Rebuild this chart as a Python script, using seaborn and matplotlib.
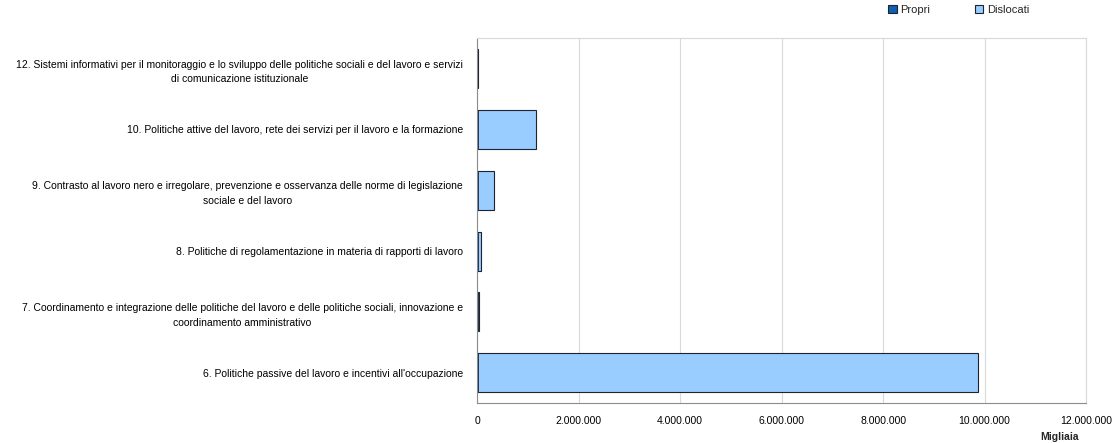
import matplotlib
matplotlib.use("Agg")
import matplotlib.pyplot as plt
from matplotlib.patches import Patch
from matplotlib.ticker import FuncFormatter
import seaborn as sns
import pandas as pd

# Spesa per programma (migliaia di euro)
categorie = [
    "12. Sistemi informativi per il monitoraggio e lo sviluppo delle politiche sociali e del lavoro e servizi\ndi comunicazione istituzionale",
    "10. Politiche attive del lavoro, rete dei servizi per il lavoro e la formazione",
    "9. Contrasto al lavoro nero e irregolare, prevenzione e osservanza delle norme di legislazione\nsociale e del lavoro",
    "8. Politiche di regolamentazione in materia di rapporti di lavoro",
    "7. Coordinamento e integrazione delle politiche del lavoro e delle politiche sociali, innovazione e\ncoordinamento amministrativo",
    "6. Politiche passive del lavoro e incentivi all'occupazione",
]
propri = [5000, 15000, 10000, 20000, 25000, 20000]
dislocati = [10000, 1150000, 330000, 59000, 20000, 9850000]
serie = ["Propri", "Dislocati"]
tick_valori = [0, 2000000, 4000000, 6000000, 8000000, 10000000, 12000000]

sns.set_theme(style="white")
font_list = ["Liberation Sans Narrow", "Liberation Sans", "DejaVu Sans"]
plt.rcParams["font.family"] = font_list

col_propri = "#1060b0"
col_disl = "#99ccff"
col_bordo = "#1c2430"

df = pd.DataFrame({"categoria": categorie, "Propri": propri, "Dislocati": dislocati})
df["Totale"] = df["Propri"] + df["Dislocati"]

fig = plt.figure(figsize=(11.12, 4.43), dpi=100)
ax = fig.add_axes([0.429, 0.090, 0.5477, 0.824])

# Barre impilate: totale (Dislocati sopra Propri) e quota Propri da zero
sns.barplot(data=df, x="Totale", y="categoria", orient="h", color=col_disl,
            edgecolor=col_bordo, linewidth=0.8, width=0.64, ax=ax, saturation=1)
sns.barplot(data=df, x="Propri", y="categoria", orient="h", color=col_propri,
            edgecolor=col_bordo, linewidth=0.6, width=0.64, ax=ax, saturation=1)

ax.set_xlim(0, 12000000)
ax.set_xticks(tick_valori)
ax.xaxis.set_major_formatter(FuncFormatter(lambda v, p: f"{int(v):,}".replace(",", ".")))
ax.grid(axis="x", color="#d9d9d9", linewidth=0.8)
ax.set_axisbelow(True)
ax.set_xlabel("")
ax.set_ylabel("")
ax.tick_params(axis="x", labelsize=7.5, length=0, pad=9, colors="#000000")
ax.tick_params(axis="y", labelsize=7.5, length=0, pad=10, colors="#000000")
for lbl in ax.get_yticklabels():
    lbl.set_multialignment("center")
    lbl.set_linespacing(1.6)

for name, sp in ax.spines.items():
    sp.set_visible(True)
    sp.set_color("#d9d9d9")
    sp.set_linewidth(0.8)
ax.spines["left"].set_color("#8c8c8c")
ax.spines["bottom"].set_color("#8c8c8c")

fig.text(0.953, 0.003, "Migliaia", ha="center", va="bottom", fontsize=7.5,
         fontweight="bold")

handles = [Patch(facecolor=col_propri, edgecolor=col_bordo, linewidth=0.8),
           Patch(facecolor=col_disl, edgecolor=col_bordo, linewidth=0.8)]
fig.legend(handles, serie, loc="center", bbox_to_anchor=(0.862, 0.978), ncol=2,
           frameon=False, fontsize=8, handlelength=0.8, handleheight=0.8,
           handletextpad=0.3, columnspacing=4.0)

fig.savefig("out.png", dpi=100)
